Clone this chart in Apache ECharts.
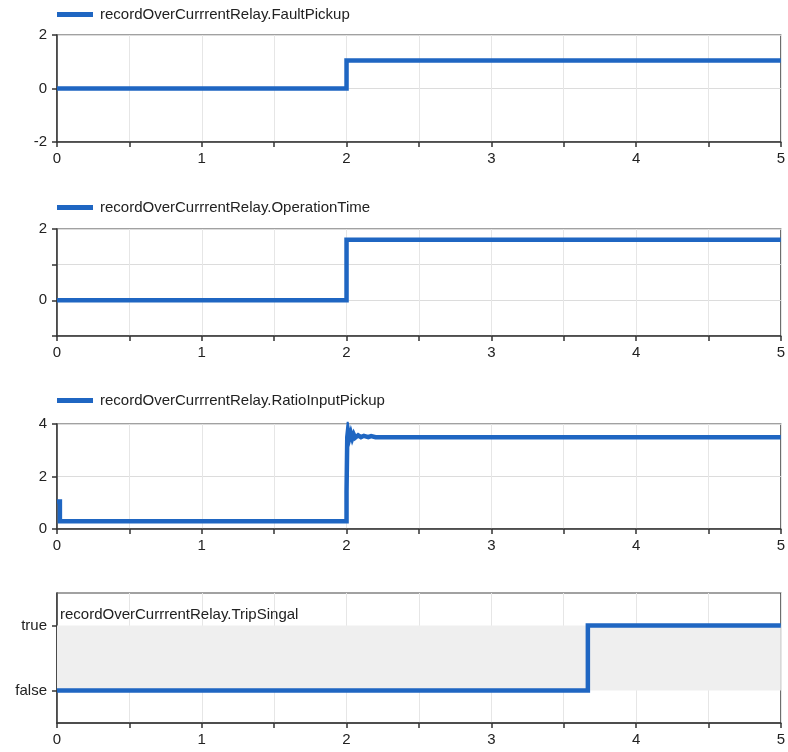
<!DOCTYPE html>
<html><head><meta charset="utf-8">
<script src="https://cdn.jsdelivr.net/npm/echarts@6/dist/echarts.min.js"></script>
<style>html,body{margin:0;padding:0;background:#fff}#c{width:788px;height:752px}</style>
</head><body><div id="c"></div>
<script>
// ---- data ----
const xTicks = [0, 1, 2, 3, 4, 5];
const names = [
  'recordOverCurrrentRelay.FaultPickup',
  'recordOverCurrrentRelay.OperationTime',
  'recordOverCurrrentRelay.RatioInputPickup',
  'recordOverCurrrentRelay.TripSingal'
];
const faultT = [0, 2, 2, 5];
const faultV = [0, 0, 1.05, 1.05];
const opT = [0, 2, 2, 5];
const opV = [0, 0, 1.7, 1.7];
const ratioT = [0, 0.02, 0.02, 2, 2, 2.005, 2.01, 2.02, 2.03, 2.04, 2.05, 2.06, 2.08, 2.1, 2.12, 2.15, 2.17, 2.2, 5];
const ratioV = [1.05, 1.05, 0.3, 0.3, 1.4, 3.5, 3.75, 3.45, 3.65, 3.45, 3.6, 3.48, 3.57, 3.5, 3.55, 3.5, 3.54, 3.5, 3.5];
const tripT = [0, 3.667, 3.667, 5];
const tripV = [0, 0, 1, 1];
const boolLabels = ['false', 'true'];

const zip = (t, v) => t.map((x, i) => [x, v[i]]);
const blue = '#1f66c2';
const font = 'Liberation Sans, Arial, sans-serif';
const fs = 15;

const grids = [
  {left: 57, right: 7, top: 35, height: 107},
  {left: 57, right: 7, top: 229, height: 107},
  {left: 57, right: 7, top: 424, height: 105},
  {left: 57, right: 7, top: 593, height: 130}
].map(g => Object.assign(g, {show: true, borderColor: '#444', borderWidth: 1.2, containLabel: false}));

const xAxes = grids.map((g, i) => ({
  type: 'value', gridIndex: i, min: 0, max: 5, interval: 0.5,
  axisLine: {onZero: false, lineStyle: {color: '#333', width: 1.5}},
  axisTick: {length: 5, lineStyle: {color: '#333', width: 1.5}},
  axisLabel: {color: '#222', fontSize: fs, fontFamily: font, margin: 9,
    formatter: v => (xTicks.indexOf(v) >= 0 ? String(v) : '')},
  splitLine: {show: true, lineStyle: {color: '#e6e6e6', width: 1}}
}));

const yCommon = {
  axisLine: {show: true, onZero: false, lineStyle: {color: '#333', width: 1.5}},
  axisTick: {show: true, length: 5, lineStyle: {color: '#333', width: 1.5}},
  splitLine: {show: true, lineStyle: {color: '#dcdcdc', width: 1}}
};
const lbl = f => ({color: '#222', fontSize: fs, fontFamily: font, margin: 10, formatter: f});
const yAxes = [
  Object.assign({type: 'value', gridIndex: 0, min: -2, max: 2, interval: 2, axisLabel: lbl(v => String(v))}, yCommon),
  Object.assign({type: 'value', gridIndex: 1, min: -1, max: 2, interval: 1, axisLabel: lbl(v => (v === 0 || v === 2) ? String(v) : '')}, yCommon),
  Object.assign({type: 'value', gridIndex: 2, min: 0, max: 4, interval: 2, axisLabel: lbl(v => String(v))}, yCommon),
  Object.assign({}, yCommon, {type: 'value', gridIndex: 3, min: -0.5, max: 1.5, interval: 0.5,
    axisTick: {show: true, length: 5, customValues: [0, 1], lineStyle: {color: '#333', width: 1.5}},
    axisLabel: Object.assign(lbl(v => boolLabels[v]), {customValues: [0, 1]}),
    splitLine: {show: false}})
];

const lineSeries = (name, data, i, extra) => Object.assign({
  name: name, type: 'line', xAxisIndex: i, yAxisIndex: i, data: data,
  showSymbol: false, symbol: 'none', animation: false,
  lineStyle: {color: blue, width: 4.5, join: 'miter', cap: 'butt'}, itemStyle: {color: blue}
}, extra || {});

const series = [
  lineSeries(names[0], zip(faultT, faultV), 0),
  lineSeries(names[1], zip(opT, opV), 1),
  lineSeries(names[2], zip(ratioT, ratioV), 2),
  lineSeries(names[3], zip(tripT, tripV), 3, {
    markArea: {silent: true, itemStyle: {color: '#efefef'},
      data: [[{xAxis: 0, yAxis: 0}, {xAxis: 5, yAxis: 1}]]}
  })
];

const legendTops = [2, 195, 388];
const legends = legendTops.map((t, i) => ({
  top: t, left: 52, data: [names[i]], icon: 'rect', itemWidth: 36, itemHeight: 5, itemGap: 6,
  textStyle: {color: '#222', fontSize: fs, fontFamily: font, padding: [0, 0, 0, 2]}, selectedMode: false
}));

const chart = echarts.init(document.getElementById('c'), null, {renderer: 'canvas'});
chart.setOption({
  animation: false,
  backgroundColor: '#fff',
  title: {text: names[3], left: 55, top: 602, textStyle: {color: '#222', fontSize: fs, fontWeight: 'normal', fontFamily: font}},
  legend: legends,
  grid: grids, xAxis: xAxes, yAxis: yAxes, series: series
});
</script></body></html>
